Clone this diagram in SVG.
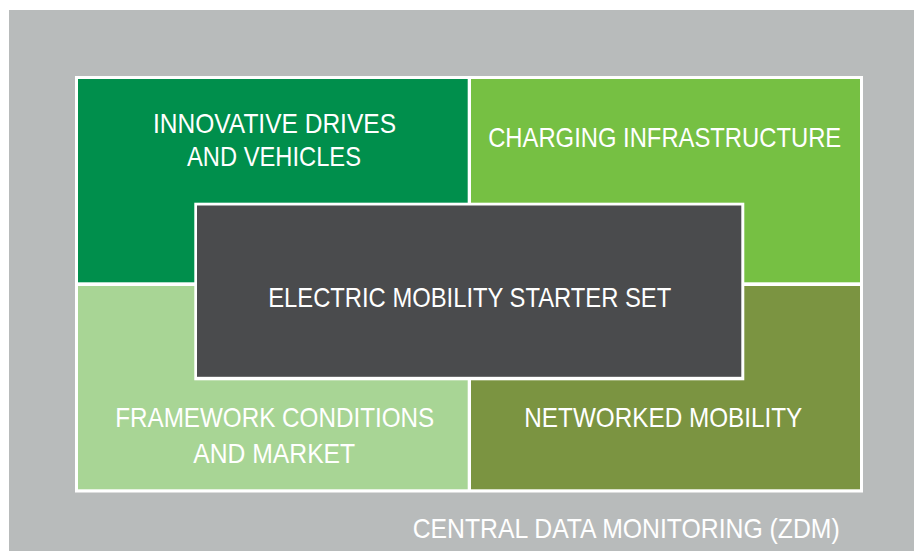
<svg xmlns="http://www.w3.org/2000/svg" width="914" height="551" viewBox="0 0 914 551">
<style>
.t{font-family:"Liberation Sans",Arial,sans-serif;font-size:28px;fill:#ffffff;text-anchor:middle}
.ts{font-family:"Liberation Sans",Arial,sans-serif;font-size:28px;fill:#ffffff}
</style>
<rect x="0" y="0" width="914" height="551" fill="#ffffff"/>
<g id="zdm">
<rect x="9" y="10" width="905" height="541" fill="#b8bbbb"/>
<text class="ts" x="412.7" y="538.3" textLength="427" lengthAdjust="spacingAndGlyphs">CENTRAL DATA MONITORING (ZDM)</text>
</g>
<rect x="75" y="76" width="788" height="416.5" fill="#ffffff"/>
<g id="innovative">
<rect x="78" y="79" width="389.7" height="203.3" fill="#008f4c"/>
<text class="t" x="274.5" y="132.7" textLength="243" lengthAdjust="spacingAndGlyphs">INNOVATIVE DRIVES</text>
<text class="t" x="274" y="166" textLength="174" lengthAdjust="spacingAndGlyphs">AND VEHICLES</text>
</g>
<g id="charging">
<rect x="471" y="79" width="389" height="203.3" fill="#76c043"/>
<text class="t" x="664.7" y="146.7" textLength="353" lengthAdjust="spacingAndGlyphs">CHARGING INFRASTRUCTURE</text>
</g>
<g id="framework">
<rect x="78" y="286" width="389.7" height="203.3" fill="#a8d595"/>
<text class="t" x="274.7" y="426.7" textLength="319" lengthAdjust="spacingAndGlyphs">FRAMEWORK CONDITIONS</text>
<text class="t" x="274.2" y="462.7" textLength="162" lengthAdjust="spacingAndGlyphs">AND MARKET</text>
</g>
<g id="networked">
<rect x="471" y="286" width="389" height="203.3" fill="#7b9441"/>
<text class="t" x="663.3" y="426.7" textLength="278" lengthAdjust="spacingAndGlyphs">NETWORKED MOBILITY</text>
</g>
<g id="starter">
<rect x="194.3" y="202.7" width="550" height="177.6" fill="#ffffff"/>
<rect x="197" y="205.5" width="544.3" height="171.3" fill="#4a4b4d"/>
<text class="t" x="469.7" y="306.7" textLength="403" lengthAdjust="spacingAndGlyphs">ELECTRIC MOBILITY STARTER SET</text>
</g>
<g id="connectors"></g>
</svg>
